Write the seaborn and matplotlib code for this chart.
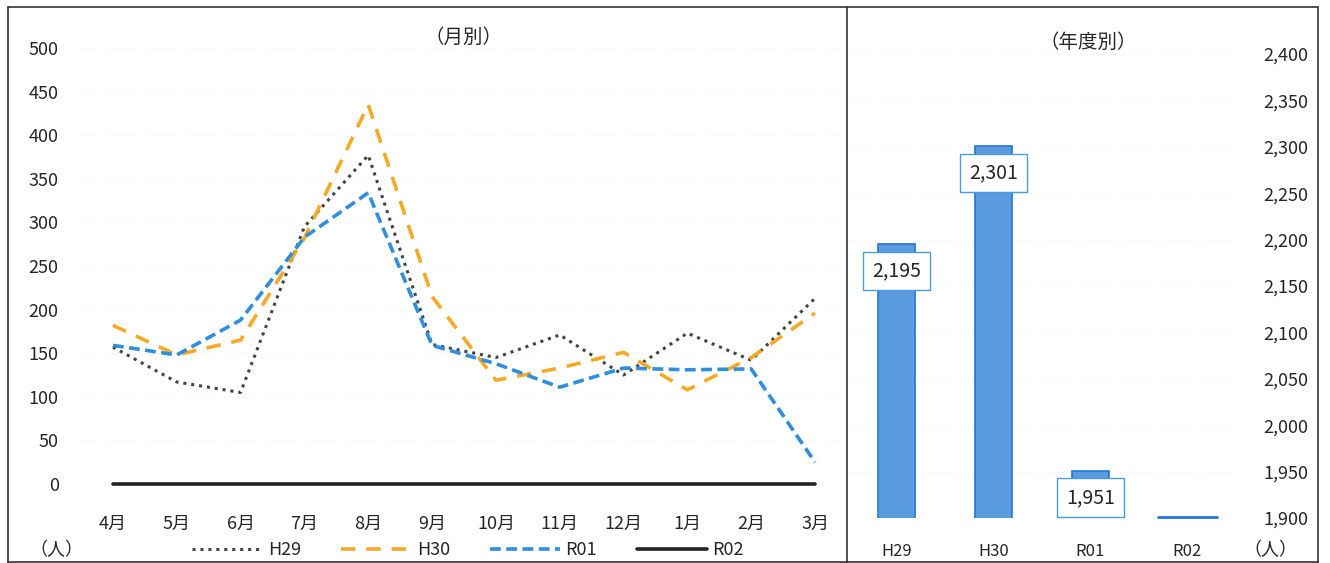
import pandas as pd
import matplotlib
matplotlib.use("Agg")
import matplotlib.pyplot as plt
from matplotlib.lines import Line2D
import seaborn as sns

# monthly values
months = ['4月', '5月', '6月', '7月', '8月', '9月', '10月', '11月', '12月', '1月', '2月', '3月']
h29 = [157, 117, 105, 295, 377, 160, 145, 171, 125, 173, 142, 213]
h30 = [182, 148, 165, 282, 435, 215, 119, 133, 151, 108, 145, 196]
r01 = [159, 148, 188, 283, 334, 159, 138, 111, 133, 131, 132, 25]
r02 = [0] * 12

# yearly totals
years = ['H29', 'H30', 'R01', 'R02']
totals = [2195, 2301, 1951, 0]

sns.set_theme(style="white")
plt.rcParams['font.family'] = ['Noto Sans CJK JP', 'DejaVu Sans']

fig = plt.figure(figsize=(13.3, 5.63), dpi=100)
ax1 = fig.add_axes([0.0609, 0.1403, 0.5759, 0.7744])
ax2 = fig.add_axes([0.6376, 0.0799, 0.2917, 0.8242])

# ---- left: monthly lines
series = {'H29': h29, 'H30': h30, 'R01': r01, 'R02': r02}
styles = {
    'H29': dict(color='#444444', linestyle=(0, (1, 1.6)), linewidth=2.2),
    'H30': dict(color='#F5A927', linestyle=(0, (4, 3)), linewidth=2.6),
    'R01': dict(color='#2F8FDD', linestyle=(0, (3, 1.5)), linewidth=2.6),
    'R02': dict(color='#222222', linestyle='-', linewidth=2.6),
}
for name, vals in series.items():
    df = pd.DataFrame({'month': months, 'value': vals})
    sns.lineplot(data=df, x='month', y='value', ax=ax1, sort=False, label=name,
                 clip_on=False, **styles[name])

ax1.set_ylim(0, 500)
ax1.set_xlim(-0.5, 11.5)
ax1.set_yticks(range(0, 501, 50))
ax1.tick_params(axis='y', labelsize=13, pad=16, length=0)
ax1.tick_params(axis='x', labelsize=13, pad=22, length=0)
ax1.set_xlabel('')
ax1.set_ylabel('')
ax1.grid(axis='y', color='#eeeeee', linestyle=(0, (1, 3)), linewidth=0.8)
for s in ax1.spines.values():
    s.set_visible(False)
ax1.set_title('（月別）', fontsize=14, pad=4)
ax1.get_legend().remove()

handles = [Line2D([0], [0], **styles[k]) for k in series]
fig.legend(handles, list(series.keys()), loc='center', bbox_to_anchor=(0.352, 0.023),
           ncol=4, frameon=False, fontsize=13, handlelength=3.9, columnspacing=2.2,
           handletextpad=0.3)
fig.text(0.022, 0.023, '（人）', fontsize=13, va='center')

# ---- right: yearly bars
ymin = 1900
sns.barplot(x=years, y=totals, ax=ax2, color='#5B9BE0', edgecolor='#1F78D6',
            linewidth=1.2, width=0.39, saturation=1)
ax2.set_ylim(ymin, 2400)
ax2.set_yticks(range(1900, 2401, 50))
ax2.yaxis.tick_right()
ax2.yaxis.set_major_formatter(matplotlib.ticker.StrMethodFormatter('{x:,.0f}'))
ax2.tick_params(axis='y', labelsize=13, pad=20, length=0)
ax2.tick_params(axis='x', labelsize=12, pad=18, length=0)
ax2.set_xlabel('')
ax2.set_ylabel('')
ax2.grid(axis='y', color='#eeeeee', linestyle=(0, (1, 3)), linewidth=0.8)
for s in ax2.spines.values():
    s.set_visible(False)
ax2.set_title('（年度別）', fontsize=14, pad=4, x=0.62)

for i, v in enumerate(totals):
    if v > ymin:
        ax2.text(i, v - 29, f'{v:,}', ha='center', va='center', fontsize=14,
                 bbox=dict(boxstyle='square,pad=0.45', fc='white', ec='#4A9BE0', lw=1))
    else:
        ax2.plot([i - 0.3, i + 0.3], [ymin + 1, ymin + 1], color='#1F78D6', lw=2,
                 clip_on=False, scalex=False, scaley=False)
ax2.set_xlim(-0.5, 3.5)
fig.text(0.955, 0.023, '（人）', fontsize=13, va='center', ha='center')

# frame around the whole figure and divider
for xs, ys in [([0.006, 0.006], [0, 0.988]), ([0.991, 0.991], [0, 0.988]),
               ([0.006, 0.991], [0.988, 0.988]), ([0.637, 0.637], [0, 0.988]),
               ([0.006, 0.991], [0.002, 0.002])]:
    fig.add_artist(Line2D(xs, ys, color='#333333', lw=1.2))

fig.savefig('out.png', dpi=100)
